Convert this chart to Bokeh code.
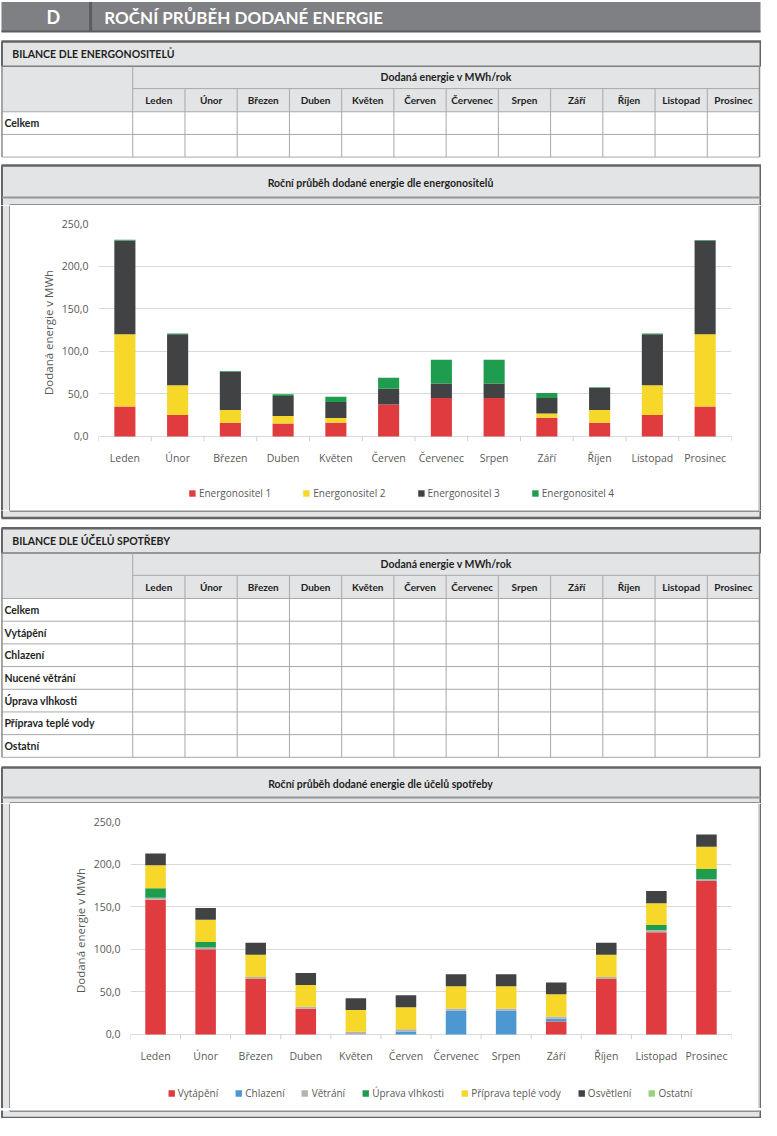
from bokeh.plotting import figure
from bokeh.layouts import column, row
from bokeh.models import (Range1d, FactorRange, LinearAxis, CategoricalAxis, FixedTicker,
                          Legend, LegendItem, Grid, ColumnDataSource)
from bokeh.core.properties import value
from bokeh.embed import file_html
from bokeh.resources import INLINE

# ---------------- data ----------------
months = ["Leden", "Únor", "Březen", "Duben", "Květen", "Červen", "Červenec",
          "Srpen", "Září", "Říjen", "Listopad", "Prosinec"]

carrier_names = ["Energonositel 1", "Energonositel 2", "Energonositel 3", "Energonositel 4"]
carrier_1 = [35, 25, 16, 15, 16, 37.5, 45, 45, 22, 16, 25, 35]
carrier_2 = [85, 35, 15, 9, 5.5, 0, 0, 0, 5, 15, 35, 85]
carrier_3 = [110, 60, 45, 23.5, 19, 18.5, 17, 17, 18, 26, 60, 110]
carrier_4 = [0.8, 0.8, 0.8, 2, 6, 13, 28, 28, 6, 0.8, 0.8, 0.5]

purpose_names = ["Vytápění", "Chlazení", "Větrání", "Úprava vlhkosti",
                 "Příprava teplé vody", "Osvětlení", "Ostatní"]
heating = [158, 100, 65, 30, 0, 0, 0, 0, 15, 65, 120, 180]
cooling = [0, 0, 0, 0, 0, 3.5, 28, 28, 3.5, 0, 0, 0]
ventilation = [2.5, 2, 2.5, 2.5, 3, 2.5, 2.5, 2.5, 2.5, 2.5, 2.5, 2.3]
humidity = [11, 6.5, 0, 0, 0, 0, 0, 0, 0, 0, 6, 12]
hot_water = [27, 26, 26, 25.5, 25.5, 26, 26, 26, 26, 26, 25.5, 26]
lighting = [14, 14, 14, 14, 14, 14, 14, 14, 14, 14, 14.5, 14.5]
other = [0, 0, 0, 0, 0, 0, 0, 0, 0, 0, 0, 0]

y_ticks = [0, 50, 100, 150, 200, 250]
y_tick_labels = ["0,0", "50,0", "100,0", "150,0", "200,0", "250,0"]
y_title = "Dodaná energie v MWh"

page_letter = "D"
page_title = "ROČNÍ PRŮBĚH DODANÉ ENERGIE"
table1_title = "BILANCE DLE ENERGONOSITELŮ"
table1_rows = ["Celkem", ""]
table2_title = "BILANCE DLE ÚČELŮ SPOTŘEBY"
table2_rows = ["Celkem", "Vytápění", "Chlazení", "Nucené větrání", "Úprava vlhkosti",
               "Příprava teplé vody", "Ostatní"]
table_header = "Dodaná energie v MWh/rok"
chart1_title = "Roční průběh dodané energie dle energonositelů"
chart2_title = "Roční průběh dodané energie dle účelů spotřeby"

carrier_colors = ["#e03c3f", "#f6d72a", "#404244", "#1f9d4f"]
purpose_colors = ["#e03c3f", "#4d98d3", "#b3b3b3", "#1f9d4f", "#f6d72a", "#404244", "#9bd17e"]

# ---------------- styles ----------------
HEADER_FILL = "#7f8083"
HEADER_SEP = "#5b5c5e"
PANEL_FILL = "#e3e4e5"
DARK_LINE = "#636466"
MID_LINE = "#969696"
INNER_LINE = "#8f8f8f"
GRID_LINE = "#a8a8a8"
TEXT = "#1f1f1f"
AXIS_TEXT = "#595959"
TFONT = "Lato"
CFONT = "Open Sans"
PAGE_W = 761
CHART_W = 748


def deco(x0, x1, y0, y1, w, h):
    p = figure(width=w, height=h, x_range=Range1d(x0, x1), y_range=Range1d(y1, y0),
               x_axis_type=None, y_axis_type=None, tools="", toolbar_location=None,
               output_backend="svg", min_border=0)
    p.min_border_left = p.min_border_right = p.min_border_top = p.min_border_bottom = 0
    p.outline_line_color = None
    p.background_fill_color = "white"
    p.border_fill_color = "white"
    p.frame_align = False
    return p


def box(p, l, r, t, b, fill):
    p.quad(left=[l], right=[r], top=[t], bottom=[b], fill_color=fill, line_color=None)


def hline(p, x0, x1, y, color, w=1):
    p.segment(x0=[x0], y0=[y], x1=[x1], y1=[y], line_color=color, line_width=w)


def vline(p, x, y0, y1, color, w=1):
    p.segment(x0=[x], y0=[y0], x1=[x], y1=[y1], line_color=color, line_width=w)


def txt(p, x, y, s, size="10.5px", align="left", color=TEXT, bold=True, font=TFONT):
    p.text(x=[x], y=[y], text=[s], text_font=value(font),
           text_font_style="bold" if bold else "normal", text_font_size=size,
           text_align=align, text_baseline="middle", text_color=color)


L, C0, R = 1.5, 135.0, 775.0
MW = (R - C0) / len(months)


def draw_table(p, sec_top, title, row_labels):
    sec_bot = sec_top + 25
    h1 = sec_bot + 22.7
    h2 = h1 + 23.5
    bottoms = [h2 + 23 * (i + 1) for i in range(len(row_labels))]
    last = bottoms[-1]
    box(p, 1, 776.5, sec_top, sec_bot, PANEL_FILL)
    box(p, L, R, sec_bot, h2, PANEL_FILL)
    hline(p, 1, 776.5, sec_top, DARK_LINE, 2.5)
    vline(p, 1.5, sec_top, sec_bot, DARK_LINE, 2)
    vline(p, 776, sec_top, sec_bot, DARK_LINE, 2)
    hline(p, L, 776, sec_bot, "#7d7d7d", 1.5)
    hline(p, C0, R, h1, GRID_LINE, 1)
    for yb in [h2] + bottoms:
        hline(p, L, R, yb, GRID_LINE, 1)
    vline(p, L, sec_bot, last, "#8c8c8c", 1.5)
    vline(p, C0, sec_bot, last, GRID_LINE, 1)
    vline(p, R, sec_bot, last, "#8c8c8c", 1.5)
    for k in range(1, len(months)):
        vline(p, C0 + MW * k, h1, last, GRID_LINE, 1)
    txt(p, 12, (sec_top + sec_bot) / 2, title)
    txt(p, (C0 + R) / 2, (sec_bot + h1) / 2, table_header, align="center")
    for k, m in enumerate(months):
        txt(p, C0 + MW * (k + 0.5), (h1 + h2) / 2, m, size="10px", align="center")
    prev = h2
    for lab, yb in zip(row_labels, bottoms):
        if lab:
            txt(p, 4, (prev + yb) / 2, lab)
        prev = yb


def panel_top(p, top, title_line, inner_top, bottom, title):
    box(p, 1, 776.5, top, bottom, PANEL_FILL)
    hline(p, 1, 776.5, top, DARK_LINE, 2.5)
    vline(p, 1.5, top, bottom, DARK_LINE, 2)
    vline(p, 776, top, bottom, DARK_LINE, 2)
    hline(p, 1.5, 776, title_line, MID_LINE, 2)
    hline(p, 9.5, 774.5, inner_top, INNER_LINE, 2)
    vline(p, 9.5, inner_top, bottom, INNER_LINE, 2)
    vline(p, 774.5, inner_top, bottom, INNER_LINE, 1.5)
    txt(p, 388, (top + title_line) / 2 + 1, title, align="center")


def panel_bottom(p, inner_bot, bot):
    box(p, 1, 776.5, inner_bot, bot, PANEL_FILL)
    hline(p, 9.5, 774.5, inner_bot, INNER_LINE, 2)
    hline(p, 1, 776.5, bot, DARK_LINE, 2.5)
    vline(p, 1.5, inner_bot - 1, bot, DARK_LINE, 2)
    vline(p, 776, inner_bot - 1, bot, DARK_LINE, 2)
    vline(p, 9.5, inner_bot - 1, inner_bot, INNER_LINE, 2)
    vline(p, 774.5, inner_bot - 1, inner_bot, INNER_LINE, 1.5)


def strip_left(y0, y1, h):
    p = deco(0, 10, y0, y1, 10, h)
    box(p, 0, 10, y0, y1, PANEL_FILL)
    vline(p, 1.5, y0, y1, DARK_LINE, 2)
    vline(p, 9.5, y0, y1, INNER_LINE, 2)
    return p


def strip_right(y0, y1, h):
    p = deco(774, 777, y0, y1, 3, h)
    box(p, 774, 777, y0, y1, PANEL_FILL)
    vline(p, 774.4, y0, y1, INNER_LINE, 1)
    vline(p, 776.3, y0, y1, DARK_LINE, 1.5)
    return p


def make_chart(names, series, colors, height, border_left, border_bottom, bar_width):
    keys = ["s%d" % i for i in range(len(names))]
    data = {"month": months}
    for k, v in zip(keys, series):
        data[k] = v
    src = ColumnDataSource(data)
    p = figure(width=CHART_W, height=height, x_range=FactorRange(*months), y_range=Range1d(-6, 250),
               x_axis_type=None, y_axis_type=None, tools="", toolbar_location=None,
               output_backend="svg", min_border_left=border_left, min_border_right=27,
               min_border_top=18, min_border_bottom=border_bottom)
    p.frame_align = False
    p.outline_line_color = None
    p.background_fill_color = "white"
    p.border_fill_color = "white"
    p.add_layout(Grid(dimension=1, ticker=FixedTicker(ticks=y_ticks),
                      grid_line_color="#d9d9d9", grid_line_width=1), "center")
    # category boundary tick marks below the base line
    edges = [(m, -0.5) for m in months] + [(months[-1], 0.5)]
    p.segment(x0=edges, x1=edges, y0=[0] * len(edges), y1=[-6] * len(edges),
              line_color="#cfcfcf", line_width=1)
    p.vbar_stack(keys, x="month", width=bar_width, source=src,
                 fill_color=colors, line_color=None)
    cat_axis = CategoricalAxis(axis_line_color=None, major_tick_line_color=None,
                               major_tick_in=0, major_tick_out=0,
                               major_label_text_font=CFONT, major_label_text_font_size="10.5px",
                               major_label_text_color=AXIS_TEXT, major_label_standoff=9)
    p.add_layout(cat_axis, "below")
    yax = LinearAxis(ticker=FixedTicker(ticks=y_ticks),
                     major_label_overrides={t: s for t, s in zip(y_ticks, y_tick_labels)},
                     axis_line_color=None, major_tick_line_color=None, minor_tick_line_color=None,
                     major_tick_in=0, major_tick_out=0,
                     major_label_standoff=10, major_label_text_font=CFONT,
                     major_label_text_font_size="10.5px", major_label_text_color=AXIS_TEXT,
                     axis_label=y_title, axis_label_standoff=3, axis_label_text_font=CFONT,
                     axis_label_text_font_style="normal", axis_label_text_font_size="11.5px",
                     axis_label_text_color=AXIS_TEXT)
    p.add_layout(yax, "left")
    return p


def make_legend(names, colors, height, border_left, spacing):
    p = figure(width=CHART_W, height=height, x_range=Range1d(0, 1), y_range=Range1d(0, 1),
               x_axis_type=None, y_axis_type=None, tools="", toolbar_location=None,
               output_backend="svg", min_border=0)
    p.min_border_left = border_left
    p.min_border_right = p.min_border_top = p.min_border_bottom = 0
    p.frame_align = False
    p.outline_line_color = None
    p.background_fill_color = "white"
    p.border_fill_color = "white"
    items = []
    for n, c in zip(names, colors):
        # swatch renderer kept outside the visible range; only its legend entry shows
        r = p.vbar(x=[-5], top=[-5], bottom=[-6], width=0.4, fill_color=c, line_color=None)
        items.append(LegendItem(label=value(n), renderers=[r]))
    legend = Legend(items=items, orientation="horizontal", location="top_center",
                    glyph_width=8, glyph_height=8, label_standoff=3, spacing=spacing,
                    padding=0, margin=19, border_line_color=None,
                    background_fill_alpha=0, label_text_font=CFONT,
                    label_text_font_size="10px", label_text_color=AXIS_TEXT, label_height=12)
    p.add_layout(legend)
    return p


# ---------------- page pieces ----------------
top = deco(0, 777, 0, 208, PAGE_W, 205)
box(top, 1, 776, 1.5, 32, HEADER_FILL)
hline(top, 1, 776, 31.5, HEADER_SEP, 2)
vline(top, 92, 1.5, 32, HEADER_SEP, 3)
txt(top, 47, 17, page_letter, size="18px", color="white")
txt(top, 106, 17, page_title, size="17px", color="white")
draw_table(top, 41.7, table1_title, table1_rows)
panel_top(top, 167.5, 200, 207.5, 208, chart1_title)

chart1 = make_chart(carrier_names, [carrier_1, carrier_2, carrier_3, carrier_4],
                    carrier_colors, 262, 88, 26, 0.4)
legend1 = make_legend(carrier_names, carrier_colors, 43, 34, 31)
row1 = row(strip_left(208, 517, 305), column(chart1, legend1), strip_right(208, 517, 305))

mid = deco(0, 777, 517, 814, PAGE_W, 293)
panel_bottom(mid, 517.5, 524.5)
draw_table(mid, 535, table2_title, table2_rows)
panel_top(mid, 777.5, 808, 813.5, 814, chart2_title)

chart2 = make_chart(purpose_names, [heating, cooling, ventilation, humidity, hot_water, lighting, other],
                    purpose_colors, 264, 120, 28, 0.41)
legend2 = make_legend(purpose_names, purpose_colors, 41, 91, 16)
row2 = row(strip_left(814, 1124, 305), column(chart2, legend2), strip_right(814, 1124, 305))

bot = deco(0, 777, 1124, 1134, PAGE_W, 10)
panel_bottom(bot, 1124.5, 1131.5)

page = column(top, row1, mid, row2, bot)

open("out.html", "w").write(file_html(page, INLINE, title="Roční průběh dodané energie"))
